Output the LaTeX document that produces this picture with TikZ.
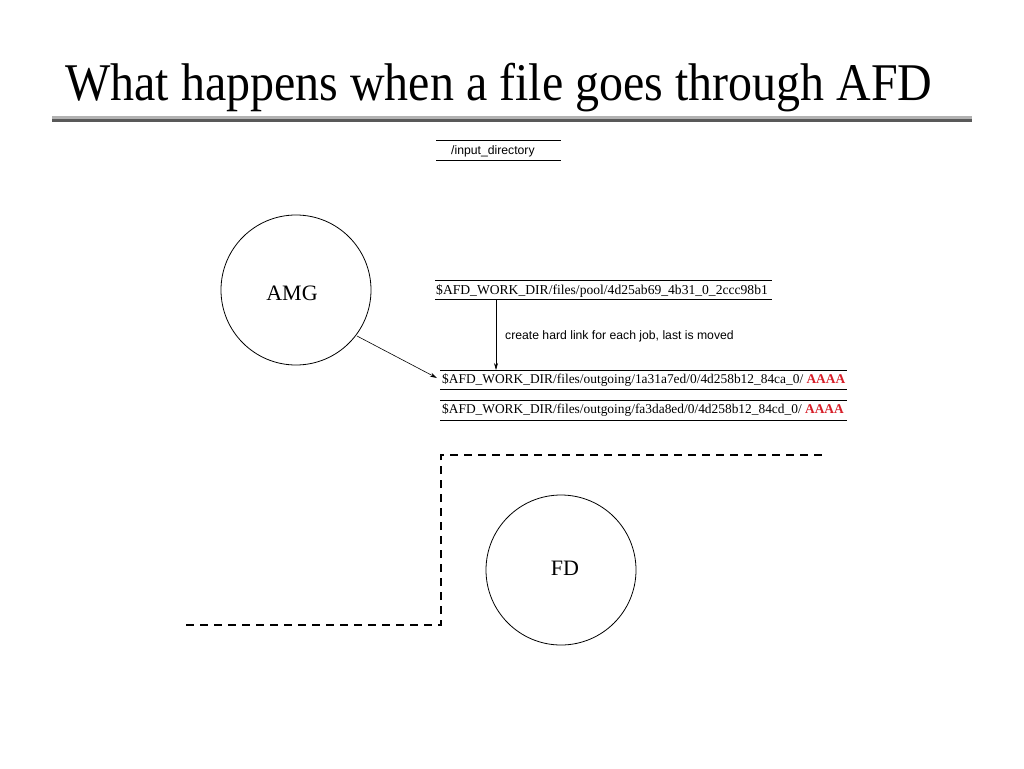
\documentclass[tikz,border=0pt]{standalone}
\usepackage{fontspec}
\setmainfont{Liberation Serif}
\setsansfont{Liberation Sans}
\usetikzlibrary{arrows.meta}
\definecolor{aaared}{RGB}{215,30,40}
\tikzset{
  proc/.style={draw, circle, line width=0.8pt, minimum size=150pt, inner sep=0pt},
  proclbl/.style={inner sep=0pt, font=\fontsize{22}{24}\selectfont},
  pathtxt/.style={anchor=west, inner sep=0pt, font=\fontsize{13.6}{15}\selectfont},
  outtxt/.style={pathtxt, font=\fontsize{13.4}{15}\selectfont},
  smalltxt/.style={anchor=west, inner sep=0pt, font=\sffamily\fontsize{12.2}{14}\selectfont},
  rule/.style={line width=0.8pt},
  flow/.style={line width=0.6pt, -{Stealth[length=7pt,width=4pt]}},
  border/.style={line width=1.6pt, dash pattern=on 8pt off 6pt}
}
\begin{document}
\begin{tikzpicture}[x=1pt,y=-1pt]
\useasboundingbox[fill=white] (0,0) rectangle (1024,768);
% title
\node[anchor=base west, inner sep=0pt, font=\fontsize{53}{58}\selectfont] (title) at (65,100) {\scalebox{0.905}[1]{What happens when a file goes through AFD}};
\fill[black!30] (52,115.5) rectangle (972,118.5);
\fill[black!65] (52,118.5) rectangle (972,121.5);
% input directory
\draw[rule] (436,140) -- (561,140);
\draw[rule] (436,160) -- (561,160);
\node[smalltxt] (inp) at (451,151) {/input\_directory};
% AMG
\node[proc] (amg) at (296,290) {};
\node[proclbl] (amglbl) at (292,293) {AMG};
% pool
\draw[rule] (435,280) -- (772,280);
\draw[rule] (435,299) -- (772,299);
\node[pathtxt] (pool) at (436,291) {\$AFD\_WORK\_DIR/files/pool/4d25ab69\_4b31\_0\_2ccc98b1};
\coordinate (poolbot) at (496,299);
% outgoing
\draw[rule] (440,370) -- (847,370);
\draw[rule] (440,389) -- (847,389);
\draw[rule] (440,400) -- (847,400);
\draw[rule] (440,420) -- (847,420);
\node[outtxt] (out1) at (442,380) {\$AFD\_WORK\_DIR/files/outgoing/1a31a7ed/0/4d258b12\_84ca\_0/\ \textcolor{aaared}{\textbf{AAAA}}};
\node[outtxt] (out2) at (442,410) {\$AFD\_WORK\_DIR/files/outgoing/fa3da8ed/0/4d258b12\_84cd\_0/\ \textcolor{aaared}{\textbf{AAAA}}};
\coordinate (out1top) at (496,370);
\draw[flow] (poolbot) -- (out1top);
\node[smalltxt] (lbl) at (505,336) {create hard link for each job, last is moved};
\coordinate (amgout) at (357,336);
\coordinate (out1in) at (437,378);
\draw[flow] (amgout) -- (out1in);
% FD
\node[proc] (fd) at (561,570) {};
\node[proclbl] (fdlbl) at (565,568) {FD};
% dashed border
\coordinate (d1) at (186,625);
\coordinate (d2) at (441,625);
\coordinate (d3) at (441,455);
\coordinate (d4) at (822,455);
\draw[border] (d1) -- (d2) -- (d3) -- (d4);
\end{tikzpicture}
\end{document}
